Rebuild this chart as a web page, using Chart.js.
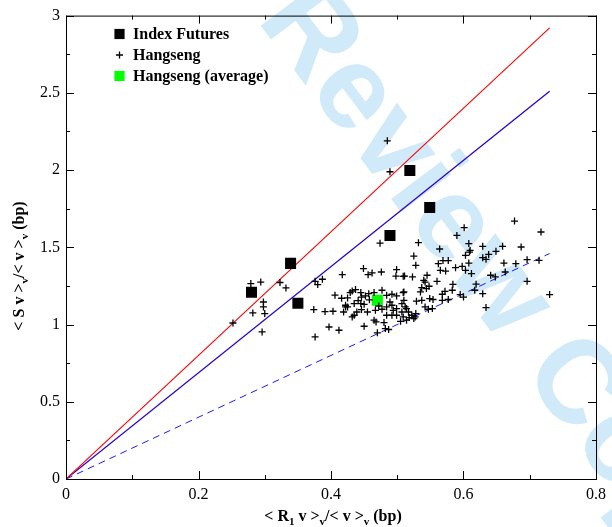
<!DOCTYPE html>
<html>
<head>
<meta charset="utf-8">
<script src="https://cdn.jsdelivr.net/npm/chart.js@4.4.1/dist/chart.umd.min.js"></script>
<style>
  body { margin: 0; background: #fff; }
  #wrap { width: 612px; height: 527px; }
</style>
</head>
<body>
<div id="wrap"><canvas id="spreadChart" width="612" height="527"></canvas></div>
<script>
// Index futures (black squares)
const futuresX = [0.280, 0.339, 0.350, 0.489, 0.519, 0.549];
const futuresY = [1.209, 1.396, 1.138, 1.577, 1.997, 1.758];

// Hangseng stocks (crosses)
const hangsengX = [
  0.252, 0.279, 0.294, 0.323, 0.332, 0.298, 0.298, 0.300, 0.282, 0.296,
  0.376, 0.380, 0.387, 0.417, 0.374, 0.391, 0.403, 0.419, 0.422, 0.397,
  0.412, 0.376, 0.485, 0.489, 0.474, 0.449, 0.456, 0.462, 0.476, 0.499,
  0.498, 0.511, 0.523, 0.525, 0.528, 0.429, 0.432, 0.437, 0.445, 0.446,
  0.452, 0.457, 0.465, 0.477, 0.484, 0.492, 0.499, 0.509, 0.425, 0.422,
  0.425, 0.435, 0.445, 0.450, 0.455, 0.439, 0.435, 0.432, 0.446, 0.467,
  0.477, 0.484, 0.489, 0.492, 0.494, 0.499, 0.484, 0.492, 0.499, 0.507,
  0.512, 0.517, 0.522, 0.465, 0.468, 0.480, 0.450, 0.482, 0.487, 0.470,
  0.509, 0.518, 0.527, 0.601, 0.590, 0.677, 0.717, 0.608, 0.610, 0.603,
  0.629, 0.659, 0.687, 0.638, 0.649, 0.629, 0.634, 0.564, 0.532, 0.569,
  0.577, 0.562, 0.565, 0.573, 0.588, 0.598, 0.603, 0.608, 0.612, 0.661,
  0.679, 0.696, 0.714, 0.663, 0.641, 0.648, 0.696, 0.730, 0.545, 0.560,
  0.540, 0.542, 0.548, 0.544, 0.537, 0.535, 0.584, 0.583, 0.572, 0.568,
  0.595, 0.600, 0.619, 0.629, 0.634, 0.617, 0.577, 0.568, 0.554, 0.549,
  0.529, 0.537, 0.542, 0.547, 0.553, 0.525, 0.510, 0.510, 0.507, 0.514,
  0.509, 0.514, 0.505, 0.528, 0.609, 0.441, 0.458, 0.472, 0.416, 0.406
];
const hangsengY = [
  1.010, 1.265, 1.275, 1.272, 1.237, 1.146, 1.114, 1.071, 1.075, 0.952,
  1.280, 1.259, 1.293, 1.323, 1.097, 1.084, 1.086, 1.081, 1.114, 0.984,
  0.963, 0.920, 2.189, 1.989, 1.527, 1.362, 1.323, 1.334, 1.340, 1.356,
  1.314, 1.314, 1.308, 1.443, 1.383, 1.207, 1.217, 1.226, 1.207, 1.178,
  1.185, 1.200, 1.207, 1.222, 1.189, 1.196, 1.185, 1.207, 1.172, 1.125,
  1.114, 1.136, 1.136, 1.131, 1.081, 1.081, 1.060, 1.049, 1.097, 1.092,
  1.099, 1.114, 1.146, 1.125, 1.092, 1.103, 1.060, 1.060, 1.060, 1.081,
  1.114, 1.081, 1.060, 1.028, 1.017, 1.013, 0.989, 0.974, 0.968, 0.946,
  1.049, 1.045, 1.049, 1.627, 1.577, 1.670, 1.599, 1.524, 1.480, 1.448,
  1.506, 1.506, 1.502, 1.454, 1.474, 1.433, 1.422, 1.489, 1.530, 1.414,
  1.414, 1.394, 1.351, 1.346, 1.368, 1.377, 1.351, 1.398, 1.330, 1.398,
  1.394, 1.420, 1.416, 1.340, 1.319, 1.308, 1.280, 1.194, 1.319, 1.280,
  1.286, 1.275, 1.248, 1.233, 1.239, 1.211, 1.260, 1.222, 1.215, 1.196,
  1.194, 1.178, 1.261, 1.200, 1.110, 1.222, 1.162, 1.157, 1.162, 1.168,
  1.151, 1.157, 1.114, 1.099, 1.103, 1.039, 1.211, 1.157, 1.136, 1.103,
  1.312, 1.028, 1.021, 1.071, 1.469, 1.155, 1.160, 1.120, 1.170, 1.190
];

// Hangseng average (green square)
const averageX = [0.470];
const averageY = [1.157];

// reference lines through the origin
const lineX = [0, 0.73];
const redLineY = [0, 2.92];
const blueLineY = [0, 2.51];
const dashLineY = [0, 1.46];

const xTickLabels = ['0', '0.2', '0.4', '0.6', '0.8'];
const yTickLabels = ['0', '0.5', '1', '1.5', '2', '2.5', '3'];

const toPoints = (xs, ys) => xs.map((x, i) => ({ x: x, y: ys[i] }));

const serif = '"Liberation Serif", "Times New Roman", serif';

// watermark behind everything
const watermark = {
  id: 'watermark',
  beforeDraw(chart) {
    const ctx = chart.ctx;
    ctx.save();
    ctx.translate(282, 0);
    ctx.rotate(53 * Math.PI / 180);
    ctx.font = 'bold 118px "Liberation Sans", Arial, sans-serif';
    ctx.fillStyle = '#d0eafa';
    ctx.textBaseline = 'middle';
    ctx.fillText('Review Copy', 0, 0);
    ctx.restore();
  }
};

// frame with inward ticks on all four sides
const frame = {
  id: 'frame',
  afterDraw(chart) {
    const ctx = chart.ctx;
    const a = chart.chartArea;
    const xs = chart.scales.x, ys = chart.scales.y;
    ctx.save();
    ctx.strokeStyle = '#000';
    ctx.lineWidth = 1;
    ctx.strokeRect(a.left + 0.5, a.top + 0.5, a.right - a.left, a.bottom - a.top);
    ctx.beginPath();
    xs.ticks.forEach(t => {
      const p = Math.round(xs.getPixelForValue(t.value)) + 0.5;
      const len = t.label ? 8 : 4;
      ctx.moveTo(p, a.bottom); ctx.lineTo(p, a.bottom - len);
      ctx.moveTo(p, a.top); ctx.lineTo(p, a.top + len);
    });
    ys.ticks.forEach(t => {
      const p = Math.round(ys.getPixelForValue(t.value)) + 0.5;
      const len = t.label ? 8 : 4;
      ctx.moveTo(a.left, p); ctx.lineTo(a.left + len, p);
      ctx.moveTo(a.right, p); ctx.lineTo(a.right - len, p);
    });
    ctx.stroke();
    ctx.restore();
  }
};

// draws a run of text pieces, some of them as subscripts
function drawRich(ctx, parts, cx, cy) {
  const big = 'bold 16px ' + serif;
  const small = 'bold 11px ' + serif;
  let total = 0;
  parts.forEach(p => { ctx.font = p[1] ? small : big; total += ctx.measureText(p[0]).width; });
  let x = cx - total / 2;
  ctx.textBaseline = 'alphabetic';
  ctx.textAlign = 'left';
  parts.forEach(p => {
    ctx.font = p[1] ? small : big;
    ctx.fillText(p[0], x, cy + (p[1] ? 4 : 0));
    x += ctx.measureText(p[0]).width;
  });
}

const axisTitles = {
  id: 'axisTitles',
  afterDraw(chart) {
    const ctx = chart.ctx;
    ctx.save();
    ctx.fillStyle = '#000';
    drawRich(ctx, [['< R', 0], ['1', 1], [' v >', 0], ['v', 1], ['/< v >', 0], ['v', 1], [' (bp)', 0]], 333, 521);
    ctx.translate(24, 266);
    ctx.rotate(-Math.PI / 2);
    drawRich(ctx, [['< S v >', 0], ['v', 1], ['/< v >', 0], ['v', 1], [' (bp)', 0]], 0, 0);
    ctx.restore();
  }
};

// legend inside the plot, top left
const innerLegend = {
  id: 'innerLegend',
  afterDraw(chart) {
    const ctx = chart.ctx;
    ctx.save();
    ctx.font = 'bold 16px ' + serif;
    ctx.textBaseline = 'middle';
    ctx.fillStyle = '#000';
    chart.data.datasets.filter(d => d.inLegend).forEach((d, i) => {
      const y = 34 + i * 21;
      ctx.fillStyle = d.backgroundColor;
      ctx.strokeStyle = d.borderColor;
      ctx.lineWidth = d.borderWidth;
      Chart.helpers.drawPoint(ctx, { pointStyle: d.pointStyle, radius: d.pointStyle === 'rect' ? 7.2 : d.pointRadius, borderWidth: d.borderWidth, rotation: 0 }, 119.5, y);
      ctx.fillStyle = '#000';
      ctx.fillText(d.label, 133, y + 1);
    });
    ctx.restore();
  }
};

const ctx = document.getElementById('spreadChart').getContext('2d');

const spreadChart = new Chart(ctx, {
  type: 'scatter',
  data: {
    datasets: [
      {
        label: 'Index Futures',
        inLegend: true,
        data: toPoints(futuresX, futuresY),
        pointStyle: 'rect',
        pointRadius: 7.8,
        backgroundColor: '#000',
        borderColor: '#000',
        borderWidth: 0,
      },
      {
        label: 'Hangseng',
        inLegend: true,
        data: toPoints(hangsengX, hangsengY),
        pointStyle: 'cross',
        pointRadius: 3.5,
        backgroundColor: '#000',
        borderColor: '#000',
        borderWidth: 1.3,
      },
      {
        label: 'Hangseng (average)',
        inLegend: true,
        data: toPoints(averageX, averageY),
        pointStyle: 'rect',
        pointRadius: 7.8,
        backgroundColor: '#00ff00',
        borderColor: '#00ff00',
        borderWidth: 0,
      },
      {
        label: 'red line',
        data: toPoints(lineX, redLineY),
        showLine: true,
        pointRadius: 0,
        borderColor: '#ff0000',
        borderWidth: 1.1,
      },
      {
        label: 'blue line',
        data: toPoints(lineX, blueLineY),
        showLine: true,
        pointRadius: 0,
        borderColor: '#2a00d0',
        borderWidth: 1.3,
      },
      {
        label: 'dashed line',
        data: toPoints(lineX, dashLineY),
        showLine: true,
        pointRadius: 0,
        borderColor: '#1a1aff',
        borderWidth: 1,
        borderDash: [7, 5],
      },
    ],
  },
  options: {
    responsive: false,
    animation: false,
    layout: { padding: { top: 15, right: 11, left: 0, bottom: 0 } },
    plugins: {
      legend: { display: false },
      tooltip: { enabled: false },
    },
    scales: {
      x: {
        type: 'linear',
        min: 0,
        max: 0.8,
        grid: { display: false, drawTicks: false },
        border: { display: false },
        afterFit: s => { s.height = 48; },
        ticks: {
          stepSize: 0.1,
          autoSkip: false,
          maxRotation: 0,
          padding: 6,
          color: '#000',
          font: { family: serif, size: 16 },
          callback: v => {
            const k = Math.round(v * 10);
            return k % 2 === 0 ? xTickLabels[k / 2] : '';
          },
        },
      },
      y: {
        type: 'linear',
        min: 0,
        max: 3,
        grid: { display: false, drawTicks: false },
        border: { display: false },
        afterFit: s => { s.width = 66; },
        ticks: {
          stepSize: 0.25,
          autoSkip: false,
          padding: 6,
          color: '#000',
          font: { family: serif, size: 16 },
          callback: v => {
            const k = Math.round(v * 4);
            return k % 2 === 0 ? yTickLabels[k / 2] : '';
          },
        },
      },
    },
  },
  plugins: [watermark, frame, axisTitles, innerLegend],
});
</script>
</body>
</html>
